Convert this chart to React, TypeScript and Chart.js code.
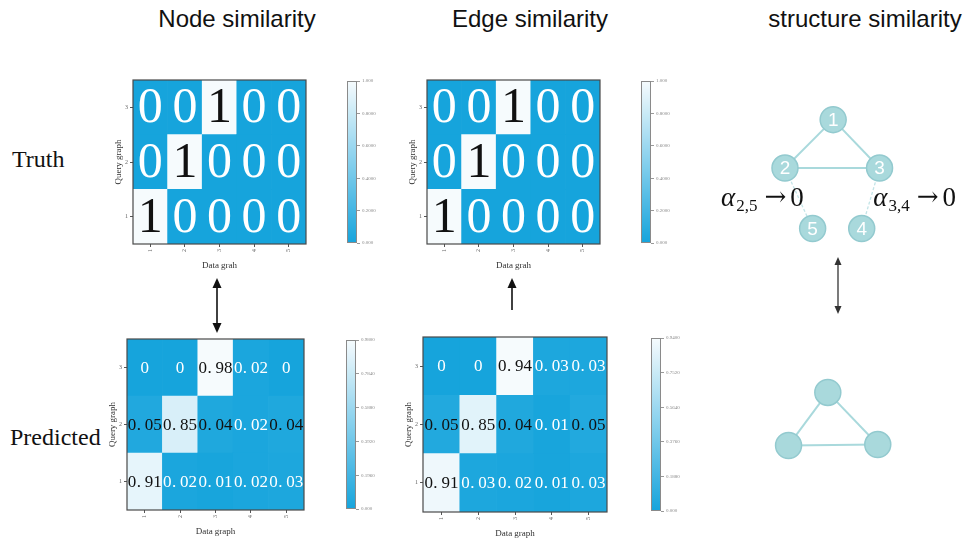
import React, { useEffect, useRef } from 'react';
import { Chart, registerables } from 'chart.js';

Chart.register(...registerables);

// ---------- data ----------
const dataGraphLabels = ['1', '2', '3', '4', '5'];
const queryGraphTicks = [1, 2, 3];

// rows: query graph 1, 2, 3 (bottom to top); columns: data graph 1..5
const nodeTruth = [
  [1, 0, 0, 0, 0],
  [0, 1, 0, 0, 0],
  [0, 0, 1, 0, 0],
];
const edgeTruth = [
  [1, 0, 0, 0, 0],
  [0, 1, 0, 0, 0],
  [0, 0, 1, 0, 0],
];
const nodePredicted = [
  [0.91, 0.02, 0.01, 0.02, 0.03],
  [0.05, 0.85, 0.04, 0.02, 0.04],
  [0, 0, 0.98, 0.02, 0],
];
const edgePredicted = [
  [0.91, 0.03, 0.02, 0.01, 0.03],
  [0.05, 0.85, 0.04, 0.01, 0.05],
  [0, 0, 0.94, 0.03, 0.03],
];

const truthBarTicks = [0, 0.2, 0.4, 0.6, 0.8, 1.0];
const truthBarLabels = ['0.000', '0.2000', '0.4000', '0.6000', '0.8000', '1.000'];
const nodePredBarTicks = [0, 0.196, 0.392, 0.588, 0.784, 0.98];
const nodePredBarLabels = ['0.000', '0.1960', '0.3920', '0.5880', '0.7840', '0.9800'];
const edgePredBarTicks = [0, 0.188, 0.376, 0.564, 0.752, 0.94];
const edgePredBarLabels = ['0.000', '0.1880', '0.3760', '0.5640', '0.7520', '0.9400'];

// structure graph (layout units)
const graphNodeIds = ['1', '2', '3', '4', '5'];
const graphNodeX = [133, 79, 185, 165, 110];
const graphNodeY = [393, 341, 341, 276, 276];
const graphSolidEdges = [[0, 1], [0, 2], [1, 2]];
const graphFadedEdges = [[1, 4], [2, 3]];
const reducedNodeX = [127, 83, 183];
const reducedNodeY = [100, 43, 44];
const reducedEdges = [[0, 1], [0, 2], [1, 2]];
const alphaLabels = ['2,5', '3,4'];

// ---------- style ----------
const SERIF = '"Liberation Serif", "Times New Roman", serif';
const SANS = '"Liberation Sans", Arial, sans-serif';
const LOW = [22, 164, 220];
const HIGH = [246, 251, 253];

function cmap(t: number) {
  const k = Math.max(0, Math.min(1, t));
  const c = LOW.map((l, i) => Math.round(l + (HIGH[i] - l) * k));
  return `rgb(${c[0]},${c[1]},${c[2]})`;
}

function fmt(v: number) {
  if (v === 0) return '0';
  if (v === 1) return '1';
  return v.toFixed(2);
}

const Y_W = 20;
const X_H = 27;
const PAD_T = 6;
const PAD_R = 6;

type HeatProps = {
  matrix: number[][];
  vmax: number;
  xTitle: string;
  left: number;
  top: number;
  width: number;
  height: number;
  fontSize: number;
  mono: boolean;
};

function Heatmap({ matrix, vmax, xTitle, left, top, width, height, fontSize, mono }: HeatProps) {
  const ref = useRef<HTMLCanvasElement>(null);
  const cw = Y_W + width + PAD_R;
  const ch = PAD_T + height + X_H;
  useEffect(() => {
    const textPlugin = {
      id: 'cellText',
      afterDatasetsDraw(chart: any) {
        const ctx = chart.ctx;
        ctx.save();
        ctx.textBaseline = 'middle';
        ctx.font = `${fontSize}px ${SERIF}`;
        matrix.forEach((row, r) => {
          const meta = chart.getDatasetMeta(r);
          meta.data.forEach((bar: any, c: number) => {
            const v = row[c];
            ctx.fillStyle = v >= 0.04 ? '#111' : '#ffffff';
            const cy = (bar.y + bar.base) / 2 + fontSize * 0.04;
            const label = fmt(v);
            if (mono) {
              const adv = fontSize * 0.5;
              const chars = label.split('');
              const start = bar.x - (chars.length * adv) / 2;
              chars.forEach((chr, k) => {
                if (chr === '.') {
                  ctx.textAlign = 'left';
                  ctx.fillText(chr, start + adv * k + adv * 0.05, cy);
                } else {
                  ctx.textAlign = 'center';
                  ctx.fillText(chr, start + adv * (k + 0.5), cy);
                }
              });
            } else {
              ctx.textAlign = 'center';
              ctx.fillText(label, bar.x, cy);
            }
          });
        });
        const ca = chart.chartArea;
        ctx.strokeStyle = '#4a4a4a';
        ctx.lineWidth = 1.2;
        ctx.strokeRect(ca.left, ca.top, ca.right - ca.left, ca.bottom - ca.top);
        ctx.restore();
      },
    };
    const axisGrid = {
      display: true,
      drawOnChartArea: false,
      drawTicks: true,
      tickLength: 3,
      color: '#555',
      offset: false,
    };
    const chart = new Chart(ref.current as HTMLCanvasElement, {
      type: 'bar',
      data: {
        labels: dataGraphLabels,
        datasets: matrix.map((row, r) => ({
          data: row.map(() => [queryGraphTicks[r] - 0.5, queryGraphTicks[r] + 0.5]),
          backgroundColor: row.map((v) => cmap(v / vmax)),
          grouped: false,
          barPercentage: 1,
          categoryPercentage: 1,
          borderWidth: 0,
        })),
      } as any,
      plugins: [textPlugin],
      options: {
        animation: false,
        responsive: false,
        maintainAspectRatio: false,
        events: [],
        layout: { padding: { top: PAD_T, right: PAD_R, left: 0, bottom: 0 } },
        plugins: { legend: { display: false }, tooltip: { enabled: false } },
        scales: {
          x: {
            type: 'category',
            offset: true,
            grid: axisGrid,
            border: { display: false },
            ticks: {
              font: { size: 6, family: SERIF },
              color: '#666',
              minRotation: 90,
              maxRotation: 90,
              padding: 2,
            },
            title: {
              display: true,
              text: xTitle,
              font: { size: 9, family: SERIF },
              color: '#333',
              padding: 0,
            },
            afterFit: (s: any) => {
              s.height = X_H;
            },
          },
          y: {
            type: 'linear',
            min: 0.5,
            max: 3.5,
            afterBuildTicks: (s: any) => {
              s.ticks = queryGraphTicks.map((v) => ({ value: v }));
            },
            grid: axisGrid,
            border: { display: false },
            ticks: { font: { size: 6, family: SERIF }, color: '#666', padding: 2 },
            title: {
              display: true,
              text: 'Query graph',
              font: { size: 9, family: SERIF },
              color: '#333',
              padding: 0,
            },
            afterFit: (s: any) => {
              s.width = Y_W;
            },
          },
        },
      } as any,
    });
    return () => chart.destroy();
  }, []);
  return (
    <canvas
      ref={ref}
      width={cw}
      height={ch}
      style={{ position: 'absolute', left: left - Y_W, top: top - PAD_T, width: cw, height: ch }}
    />
  );
}

type BarProps = {
  vmax: number;
  ticks: number[];
  labels: string[];
  left: number;
  top: number;
  width: number;
  height: number;
};

const CB_AXIS = 34;
const CB_PAD = 4;

function Colorbar({ vmax, ticks, labels, left, top, width, height }: BarProps) {
  const ref = useRef<HTMLCanvasElement>(null);
  const cw = width + CB_AXIS;
  const ch = height + CB_PAD * 2;
  useEffect(() => {
    const outline = {
      id: 'cbOutline',
      afterDatasetsDraw(chart: any) {
        const ca = chart.chartArea;
        const ctx = chart.ctx;
        ctx.save();
        ctx.strokeStyle = '#8a8a8a';
        ctx.lineWidth = 1;
        ctx.strokeRect(ca.left + 0.5, ca.top + 0.5, ca.right - ca.left - 1, ca.bottom - ca.top - 1);
        ctx.restore();
      },
    };
    const chart = new Chart(ref.current as HTMLCanvasElement, {
      type: 'bar',
      data: {
        labels: [''],
        datasets: [
          {
            data: [[0, vmax]],
            backgroundColor: (c: any) => {
              const ca = c.chart.chartArea;
              if (!ca) return cmap(0);
              const g = c.chart.ctx.createLinearGradient(0, ca.bottom, 0, ca.top);
              for (let i = 0; i <= 10; i++) g.addColorStop(i / 10, cmap(i / 10));
              return g;
            },
            barPercentage: 1,
            categoryPercentage: 1,
            borderWidth: 0,
          },
        ],
      } as any,
      plugins: [outline],
      options: {
        animation: false,
        responsive: false,
        maintainAspectRatio: false,
        events: [],
        layout: { padding: { top: CB_PAD, bottom: CB_PAD, left: 0, right: 0 } },
        plugins: { legend: { display: false }, tooltip: { enabled: false } },
        scales: {
          x: { display: false },
          y: {
            position: 'right',
            min: 0,
            max: vmax,
            afterBuildTicks: (s: any) => {
              s.ticks = ticks.map((v) => ({ value: v }));
            },
            ticks: {
              callback: (_v: any, i: number) => labels[i],
              font: { size: 5, family: SERIF },
              color: '#888',
              padding: 2,
              autoSkip: false,
            },
            grid: { drawOnChartArea: false, tickLength: 3, color: '#999' },
            border: { display: false },
            afterFit: (s: any) => {
              s.width = CB_AXIS;
            },
          },
        },
      } as any,
    });
    return () => chart.destroy();
  }, []);
  return (
    <canvas
      ref={ref}
      width={cw}
      height={ch}
      style={{ position: 'absolute', left, top: top - CB_PAD, width: cw, height: ch }}
    />
  );
}

const G_LEFT = 700;
const G_TOP = 80;
const G_W = 269;
const G_H = 420;

function StructureGraph() {
  const ref = useRef<HTMLCanvasElement>(null);
  useEffect(() => {
    const NODE_FILL = '#a9d9dc';
    const NODE_BORDER = '#93cacf';
    const EDGE = '#a9d9dc';
    const FADED = '#c2e4e7';
    const pts = graphNodeIds.map((_, i) => ({ x: graphNodeX[i], y: graphNodeY[i] }));
    const rpts = reducedNodeX.map((x, i) => ({ x, y: reducedNodeY[i] }));
    const edgeSet = (list: number[][], P: any[], color: string, dash: number[], w: number) =>
      list.map(([a, b]) => ({
        data: [P[a], P[b]],
        showLine: true,
        pointRadius: 0,
        borderColor: color,
        borderWidth: w,
        borderDash: dash,
      }));
    const labelsPlugin = {
      id: 'graphLabels',
      afterDatasetsDraw(chart: any) {
        const ctx = chart.ctx;
        ctx.save();
        const meta = chart.getDatasetMeta(0);
        ctx.fillStyle = '#ffffff';
        ctx.textAlign = 'center';
        ctx.textBaseline = 'middle';
        ctx.font = `19px ${SANS}`;
        meta.data.forEach((p: any, i: number) => {
          ctx.fillText(graphNodeIds[i], p.x, p.y + 1);
        });
        // alpha annotations
        const xs = chart.scales.x;
        const ys = chart.scales.y;
        const ARROW_FONT = '26px "DejaVu Serif", serif';
        const drawAlpha = (sub: string, x: number, base: number, align: string) => {
          ctx.textAlign = 'left';
          ctx.textBaseline = 'alphabetic';
          ctx.fillStyle = '#111';
          ctx.font = `italic 27px ${SERIF}`;
          const wA = ctx.measureText('α').width;
          ctx.font = `17px ${SERIF}`;
          const wS = ctx.measureText(sub).width;
          ctx.font = ARROW_FONT;
          const wArrow = ctx.measureText('\u2192').width;
          ctx.font = `27px ${SERIF}`;
          const wZero = ctx.measureText('0').width;
          const gap1 = 7;
          const gap2 = 4;
          const total = wA + 1 + wS + gap1 + wArrow + gap2 + wZero;
          let sx = align === 'right' ? x - total : x;
          ctx.font = `italic 27px ${SERIF}`;
          ctx.fillText('α', sx, base);
          sx += wA + 1;
          ctx.font = `17px ${SERIF}`;
          ctx.fillText(sub, sx, base + 5);
          sx += wS + gap1;
          ctx.font = ARROW_FONT;
          ctx.fillText('\u2192', sx, base - 1);
          sx += wArrow + gap2;
          ctx.font = `27px ${SERIF}`;
          ctx.fillText('0', sx, base);
        };
        const baseY = ys.getPixelForValue(300);
        drawAlpha(alphaLabels[0], xs.getPixelForValue(100), baseY, 'right');
        drawAlpha(alphaLabels[1], xs.getPixelForValue(178), baseY, 'left');
        ctx.restore();
      },
    };
    const chart = new Chart(ref.current as HTMLCanvasElement, {
      type: 'scatter',
      data: {
        datasets: [
          {
            data: pts,
            pointRadius: 13,
            pointBackgroundColor: NODE_FILL,
            pointBorderColor: NODE_BORDER,
            pointBorderWidth: 1.5,
            showLine: false,
          },
          {
            data: rpts,
            pointRadius: 13,
            pointBackgroundColor: NODE_FILL,
            pointBorderColor: NODE_BORDER,
            pointBorderWidth: 1.5,
            showLine: false,
          },
          ...edgeSet(graphSolidEdges, pts, EDGE, [], 2),
          ...edgeSet(graphFadedEdges, pts, FADED, [3, 2], 1.3),
          ...edgeSet(reducedEdges, rpts, EDGE, [], 2),
        ],
      } as any,
      plugins: [labelsPlugin],
      options: {
        animation: false,
        responsive: false,
        maintainAspectRatio: false,
        events: [],
        layout: { padding: 0 },
        plugins: { legend: { display: false }, tooltip: { enabled: false } },
        scales: {
          x: { type: 'linear', min: 0, max: G_W, display: false },
          y: { type: 'linear', min: 0, max: G_H, display: false },
        },
      } as any,
    });
    return () => chart.destroy();
  }, []);
  return (
    <canvas
      ref={ref}
      width={G_W}
      height={G_H}
      style={{ position: 'absolute', left: G_LEFT, top: G_TOP, width: G_W, height: G_H }}
    />
  );
}

function Arrows() {
  return (
    <svg
      width={969}
      height={541}
      style={{ position: 'absolute', left: 0, top: 0, pointerEvents: 'none' }}
    >
      <g fill="#111" stroke="#111">
        <line x1={217} y1={285} x2={217} y2={326} strokeWidth={1.6} />
        <polygon points="217,278 212.5,288 221.5,288" stroke="none" />
        <polygon points="217,333 212.5,323 221.5,323" stroke="none" />
        <line x1={512} y1={285} x2={512} y2={310} strokeWidth={1.6} />
        <polygon points="512,278 507.5,288 516.5,288" stroke="none" />
      </g>
      <g fill="#333" stroke="#333">
        <line x1={838} y1={263} x2={838} y2={308} strokeWidth={1.3} />
        <polygon points="838,257 834.5,265 841.5,265" stroke="none" />
        <polygon points="838,314 834.5,306 841.5,306" stroke="none" />
      </g>
    </svg>
  );
}

const titleStyle: React.CSSProperties = {
  position: 'absolute',
  fontFamily: SANS,
  fontSize: 24,
  lineHeight: '24px',
  color: '#111',
  whiteSpace: 'nowrap',
  textAlign: 'center',
  width: 300,
  top: 7,
};

const rowLabelStyle: React.CSSProperties = {
  position: 'absolute',
  fontFamily: SERIF,
  fontSize: 24,
  lineHeight: '24px',
  color: '#111',
  whiteSpace: 'nowrap',
};

export default function App() {
  return (
    <div
      style={{
        position: 'absolute',
        left: 0,
        top: 0,
        width: 969,
        height: 541,
        background: '#ffffff',
        overflow: 'hidden',
      }}
    >
      <div style={{ ...titleStyle, left: 237 - 150 }}>Node similarity</div>
      <div style={{ ...titleStyle, left: 530 - 150 }}>Edge similarity</div>
      <div style={{ ...titleStyle, left: 865 - 150 }}>structure similarity</div>
      <div style={{ ...rowLabelStyle, left: 12, top: 147 }}>Truth</div>
      <div style={{ ...rowLabelStyle, left: 10, top: 425 }}>Predicted</div>

      <Heatmap matrix={nodeTruth} vmax={1} xTitle="Data grah" left={133} top={80} width={173} height={164} fontSize={50} mono={false} />
      <Colorbar vmax={1} ticks={truthBarTicks} labels={truthBarLabels} left={347} top={80} width={10} height={164} />

      <Heatmap matrix={edgeTruth} vmax={1} xTitle="Data grah" left={427} top={80} width={173} height={164} fontSize={50} mono={false} />
      <Colorbar vmax={1} ticks={truthBarTicks} labels={truthBarLabels} left={641} top={80} width={10} height={164} />

      <Heatmap matrix={nodePredicted} vmax={0.98} xTitle="Data graph" left={127} top={339} width={177} height={171} fontSize={17} mono={true} />
      <Colorbar vmax={0.98} ticks={nodePredBarTicks} labels={nodePredBarLabels} left={346} top={339} width={10} height={171} />

      <Heatmap matrix={edgePredicted} vmax={0.94} xTitle="Data graph" left={423} top={337} width={184} height={175} fontSize={17} mono={true} />
      <Colorbar vmax={0.94} ticks={edgePredBarTicks} labels={edgePredBarLabels} left={651} top={337} width={10} height={175} />

      <StructureGraph />
      <Arrows />
    </div>
  );
}
